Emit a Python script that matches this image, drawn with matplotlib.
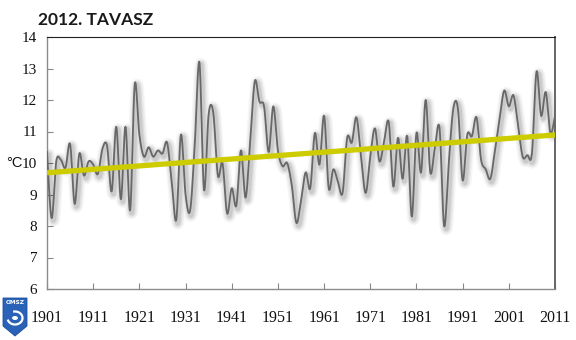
import numpy as np
import matplotlib
matplotlib.use("Agg")
import matplotlib.pyplot as plt
from matplotlib.patches import Polygon, Arc, Circle

# ---------------- data ----------------
years = list(range(1901, 2012))
temps = [
    10.35, 8.25, 10.05, 10.1, 9.85, 10.6, 8.7, 10.3, 9.6, 10.05,      # 1901-1910
    9.95, 9.65, 10.45, 10.55, 9.1, 11.15, 8.85, 11.15, 8.5, 12.5,     # 1911-1920
    10.9, 10.2, 10.5, 10.2, 10.4, 10.3, 10.65, 9.4, 8.2, 10.9,        # 1921-1930
    9.0, 8.5, 10.6, 13.2, 9.15, 11.55, 11.6, 9.6, 10.0, 8.4,          # 1931-1940
    9.2, 8.65, 10.4, 8.9, 10.7, 12.6, 11.95, 11.8, 10.35, 11.8,       # 1941-1950
    10.4, 9.9, 10.0, 9.3, 8.1, 8.8, 9.7, 9.2, 10.95, 9.95,            # 1951-1960
    11.5, 9.2, 9.8, 9.4, 9.05, 10.8, 10.65, 11.45, 10.2, 9.05,        # 1961-1970
    10.2, 11.1, 10.05, 10.7, 11.3, 9.25, 10.8, 9.5, 10.85, 8.3,       # 1971-1980
    10.95, 9.7, 12.0, 9.7, 10.5, 11.1, 8.0, 10.0, 11.75, 11.7,        # 1981-1990
    9.45, 10.9, 10.85, 11.45, 10.1, 9.8, 9.5, 10.4, 11.4, 12.3,       # 1991-2000
    11.8, 12.15, 11.2, 10.2, 10.25, 10.3, 12.9, 11.5, 12.25, 10.95,   # 2001-2010
    11.5,                                                             # 2011
]
trend_years = [1901, 2011]
trend_vals = [9.69, 10.89]
xtick_years = list(range(1901, 2012, 10))
ytick_vals = list(range(6, 15))
title_text = "2012. TAVASZ"
unit_text = "°C"
logo_text = "OMSZ"


def smooth(x, y, n=16):
    """Excel-like smoothed line (cubic Bezier / Catmull-Rom)."""
    x = np.asarray(x, float)
    y = np.asarray(y, float)
    px = np.concatenate([[x[0]], x, [x[-1]]])
    py = np.concatenate([[y[0]], y, [y[-1]]])
    t = np.linspace(0, 1, n, endpoint=False)
    xs, ys = [], []
    for i in range(1, len(px) - 2):
        for p, out in ((px, xs), (py, ys)):
            p0, p1, p2, p3 = p[i - 1], p[i], p[i + 1], p[i + 2]
            c1 = p1 + (p2 - p0) / 6.0
            c2 = p2 - (p3 - p1) / 6.0
            b = ((1 - t) ** 3 * p1 + 3 * (1 - t) ** 2 * t * c1
                 + 3 * (1 - t) * t ** 2 * c2 + t ** 3 * p2)
            out.extend(b)
    xs.append(x[-1])
    ys.append(y[-1])
    return np.array(xs), np.array(ys)


W, H = 576, 340
fig = plt.figure(figsize=(W / 100, H / 100), dpi=100)
fig.patch.set_facecolor("white")

x0, x1 = 47, 555
y0, y1 = 37, 289
ax = fig.add_axes([x0 / W, 1 - y1 / H, (x1 - x0) / W, (y1 - y0) / H])

sx, sy = smooth(years, temps)

# soft blurred shadow
for lw, a in ((9, 0.035), (7, 0.045), (5, 0.06), (3.2, 0.08)):
    ax.plot(sx + 0.4, sy - 0.08, color="#000000", lw=lw, alpha=a,
            solid_capstyle="round", solid_joinstyle="round", zorder=2)
ax.plot(sx, sy, color="#686868", lw=1.3, zorder=3,
        solid_joinstyle="round")

ax.plot(trend_years, trend_vals, color="#CCCC00", lw=3.8, zorder=4,
        solid_capstyle="butt")

ax.set_xlim(1901, 2011)
ax.set_ylim(6, 14)
ax.set_xticks(xtick_years)
ax.set_xticklabels([str(v) for v in xtick_years])
ax.set_yticks(ytick_vals)
ax.set_yticklabels([str(v) for v in ytick_vals])

for lab in ax.get_yticklabels():
    lab.set_fontfamily("Liberation Serif")
    lab.set_fontsize(11)
for lab in ax.get_xticklabels():
    lab.set_fontfamily("Liberation Serif")
    lab.set_fontsize(11.5)

ax.tick_params(axis="y", direction="in", length=4, width=0.8,
               color="#888888", pad=7, labelcolor="#111111")
ax.tick_params(axis="x", direction="in", length=4, width=0.8,
               color="#888888", pad=15, labelcolor="#111111")

for side in ("left", "bottom"):
    ax.spines[side].set_color("#8c8c8c")
    ax.spines[side].set_linewidth(1.0)
ax.spines["right"].set_color("#666666")
ax.spines["right"].set_linewidth(1.4)
ax.spines["top"].set_color("#222222")
ax.spines["top"].set_linewidth(0.8)

# title and unit
fig.text(38 / W, 1 - 20 / H, title_text, fontsize=12.5, fontweight="bold",
         family="Lato", ha="left", va="center", color="#1a1a1a")
fig.text(6 / W, 1 - 163 / H, unit_text, fontsize=10.5,
         family="Liberation Sans", ha="left", va="center", color="#111111")

# OMSZ logo (small blue shield)
shield = [(3, 298), (27, 298), (27, 326), (15, 336), (3, 326)]
pts = [(px_ / W, 1 - py_ / H) for px_, py_ in shield]
fig.patches.append(Polygon(pts, closed=True, transform=fig.transFigure,
                           facecolor="#2a62b8", edgecolor="#1d4f9c", lw=0.6))
fig.text(15 / W, 1 - 303 / H, logo_text, fontsize=4.2, fontweight="bold",
         family="DejaVu Sans", color="white", ha="center", va="center")
fig.patches.append(Arc((15 / W, 1 - 318 / H), 15 / W, 13 / H,
                       theta1=200, theta2=460, transform=fig.transFigure,
                       color="white", lw=1.6))
fig.patches.append(Circle((15 / W, 1 - 318 / H), 2.2 / W,
                          transform=fig.transFigure, color="white"))

fig.savefig("out.png", dpi=100, facecolor="white")
